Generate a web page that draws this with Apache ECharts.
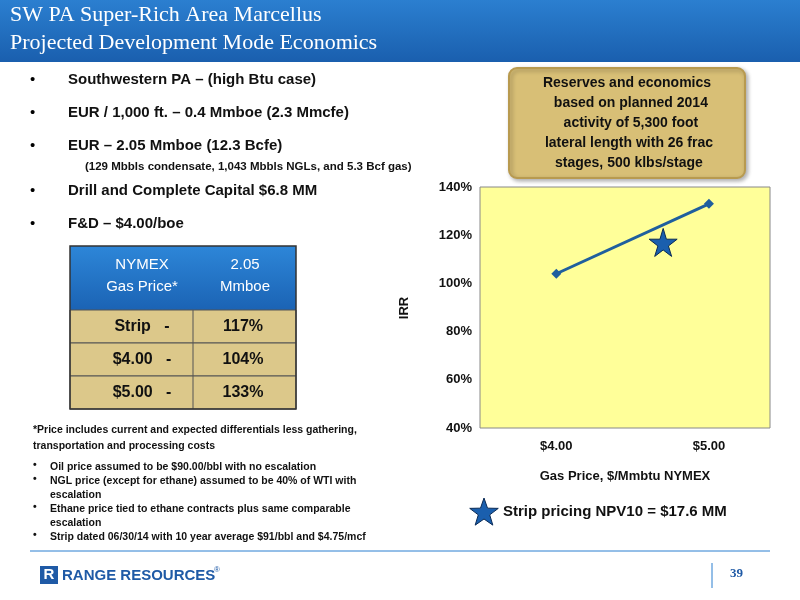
<!DOCTYPE html>
<html><head><meta charset="utf-8">
<script src="https://cdn.jsdelivr.net/npm/echarts@6/dist/echarts.min.js"></script>
<style>html,body{margin:0;padding:0;background:#fff}#c{width:800px;height:600px}</style>
</head><body><div id="c"></div>
<script>
const titleLines = ["SW PA Super-Rich Area Marcellus", "Projected Development Mode Economics"];
const bullets = ["Southwestern PA – (high Btu case)", "EUR / 1,000 ft. – 0.4 Mmboe (2.3 Mmcfe)", "EUR – 2.05 Mmboe (12.3 Bcfe)"];
const subNote = "(129 Mbbls condensate, 1,043 Mbbls NGLs, and 5.3 Bcf gas)";
const bullets2 = ["Drill and Complete Capital $6.8 MM", "F&D – $4.00/boe"];
const tableRows = [["Strip   -", "117%"], ["$4.00   -", "104%"], ["$5.00   -", "133%"]];
const footNotes = ["Oil price assumed to be $90.00/bbl with no escalation", "NGL price (except for ethane) assumed to be 40% of WTI with\nescalation", "Ethane price tied to ethane contracts plus same comparable\nescalation", "Strip dated 06/30/14 with 10 year average $91/bbl and $4.75/mcf"];
const gasPrices = [4, 5];
const irr = [104, 133];
const stripPrice = 4.70;
const stripIrr = 117;
const yTicks = [40, 60, 80, 100, 120, 140];

const F = 'Arial, "Liberation Sans", sans-serif';
const STAR = 'path://M50,0 L61,35 L98,35 L68,57 L79,91 L50,70 L21,91 L32,57 L2,35 L39,35 Z';
function starPts(cx,cy,R){const p=[];for(let i=0;i<10;i++){const r=i%2?R*0.4:R;const a=-Math.PI/2+i*Math.PI/5;p.push([cx+r*Math.cos(a),cy+r*Math.sin(a)]);}return p;}
const g = [];
g.push({type:'rect', shape:{x:0,y:0,width:800,height:62}, style:{fill:new echarts.graphic.LinearGradient(0,0,0,1,[{offset:0,color:'#2b7fd0'},{offset:1,color:'#1a5fae'}])}});
titleLines.forEach((t,i)=>g.push({type:'text', x:10, y:4+i*28, style:{text:t, fill:'#fff', font:'22px "Liberation Serif", "DejaVu Serif", serif'}}));
let y = 72;
bullets.forEach(b=>{g.push({type:'text',x:30,y:y,style:{text:'•',font:'15px '+F,fill:'#000'}});g.push({type:'text',x:68,y:y,style:{text:b,font:'bold 15px '+F,fill:'#111'}}); y+=33;});
g.push({type:'text',x:85,y:161,style:{text:subNote,font:'bold 11.5px '+F,fill:'#111'}});
y=183;
bullets2.forEach(b=>{g.push({type:'text',x:30,y:y,style:{text:'•',font:'15px '+F,fill:'#000'}});g.push({type:'text',x:68,y:y,style:{text:b,font:'bold 15px '+F,fill:'#111'}}); y+=33;});
g.push({type:'rect',shape:{x:70,y:246,width:226,height:64},style:{fill:new echarts.graphic.LinearGradient(0,0,0,1,[{offset:0,color:'#2d86d8'},{offset:1,color:'#1b63b4'}])}});
g.push({type:'text',x:142,y:276,style:{text:'NYMEX\nGas Price*',align:'center',verticalAlign:'middle',font:'15px '+F,fill:'#fff',lineHeight:22}});
g.push({type:'text',x:245,y:276,style:{text:'2.05\nMmboe',align:'center',verticalAlign:'middle',font:'15px '+F,fill:'#fff',lineHeight:22}});
tableRows.forEach((r,i)=>{
  const ry=310+i*33;
  g.push({type:'rect',shape:{x:70,y:ry,width:226,height:33},style:{fill:'#dcc88a',stroke:'#555',lineWidth:1}});
  g.push({type:'text',x:142,y:ry+17,style:{text:r[0],align:'center',verticalAlign:'middle',font:'bold 16px '+F,fill:'#111'}});
  g.push({type:'text',x:243,y:ry+17,style:{text:r[1],align:'center',verticalAlign:'middle',font:'bold 16px '+F,fill:'#111'}});
});
g.push({type:'line',shape:{x1:193,y1:310,x2:193,y2:409},style:{stroke:'#555',lineWidth:1}});
g.push({type:'rect',shape:{x:70,y:246,width:226,height:163},style:{fill:'none',stroke:'#333',lineWidth:1.5}});
g.push({type:'text',x:33,y:422,style:{text:'*Price includes current and expected differentials less gathering,\ntransportation and processing costs',font:'bold 10.5px '+F,fill:'#111',lineHeight:16}});
let fy=460;
footNotes.forEach(n=>{g.push({type:'text',x:33,y:fy,style:{text:'•',font:'bold 10.5px '+F,fill:'#111'}});g.push({type:'text',x:50,y:fy,style:{text:n,font:'bold 10.5px '+F,fill:'#111',lineHeight:14}}); fy+= n.includes('\n')?28:14;});
g.push({type:'rect',shape:{x:509,y:68,width:236,height:110,r:8},style:{fill:'#d8bf76',stroke:'#b89a4f',lineWidth:2,shadowBlur:4,shadowColor:'rgba(0,0,0,0.3)',shadowOffsetX:2,shadowOffsetY:2}});
g.push({type:'text',x:627,y:123,style:{text:'Reserves and economics\n  based on planned 2014\n  activity of 5,300 foot\n lateral length with 26 frac\n stages, 500 klbs/stage',align:'center',verticalAlign:'middle',font:'bold 14px '+F,fill:'#111',lineHeight:20}});
g.push({type:'text',x:625,y:470,style:{text:'Gas Price, $/Mmbtu NYMEX',align:'center',font:'bold 13px '+F,fill:'#111'}});
g.push({type:'text',x:503,y:504,style:{text:'Strip pricing NPV10 = $17.6 MM',font:'bold 15px '+F,fill:'#111'}});
g.push({type:'text',x:404,y:308,rotation:Math.PI/2,style:{text:'IRR',align:'center',verticalAlign:'middle',font:'bold 13px '+F,fill:'#111'}});
g.push({type:'polygon',shape:{points:starPts(484,513,15)},style:{fill:'#1a5fae',stroke:'#0a2a55',lineWidth:1}});
g.push({type:'line',shape:{x1:30,y1:551,x2:770,y2:551},style:{stroke:'#2b7fd0',lineWidth:1}});
g.push({type:'rect',shape:{x:40,y:566,width:18,height:18},style:{fill:'#1f5aa6'}});
g.push({type:'text',x:49,y:575,style:{text:'R',align:'center',verticalAlign:'middle',font:'bold 15px '+F,fill:'#fff'}});
g.push({type:'text',x:62,y:568,style:{text:'RANGE RESOURCES',font:'bold 15px '+F,fill:'#1f5aa6'}});
g.push({type:'text',x:214,y:566,style:{text:'®',font:'8px '+F,fill:'#1f5aa6'}});
g.push({type:'line',shape:{x1:712,y1:563,x2:712,y2:588},style:{stroke:'#2b7fd0',lineWidth:1}});
g.push({type:'text',x:730,y:567,style:{text:'39',font:'bold 13px "Liberation Serif", serif',fill:'#1f5aa6'}});

const chart = echarts.init(document.getElementById('c'));
chart.setOption({
  animation:false,
  grid:{left:480,top:187,width:290,height:241,show:true,backgroundColor:'#ffff99',borderColor:'#888',borderWidth:1},
  xAxis:{type:'value',min:3.5,max:5.4,interval:0.5,splitLine:{show:false},axisTick:{show:false},axisLine:{show:false},
    axisLabel:{margin:12,fontWeight:'bold',fontSize:13,color:'#111',fontFamily:F,formatter:v=>gasPrices.includes(v)?'$'+v.toFixed(2):''}},
  yAxis:{type:'value',min:yTicks[0],max:yTicks[yTicks.length-1],interval:20,splitLine:{show:false},axisLine:{show:false},axisTick:{show:false},
    axisLabel:{fontWeight:'bold',fontSize:13,color:'#111',fontFamily:F,formatter:'{value}%'}},
  series:[
    {type:'line',data:gasPrices.map((p,i)=>[p,irr[i]]),symbol:'diamond',symbolSize:10,lineStyle:{color:'#1f5f9e',width:3},itemStyle:{color:'#1f5f9e'}},
    {type:'scatter',data:[[stripPrice,stripIrr]],symbol:STAR,symbolSize:28,itemStyle:{color:'#1a5fae',opacity:1,borderColor:'#0a2a55',borderWidth:1}}
  ],
  graphic:g
});
</script></body></html>
